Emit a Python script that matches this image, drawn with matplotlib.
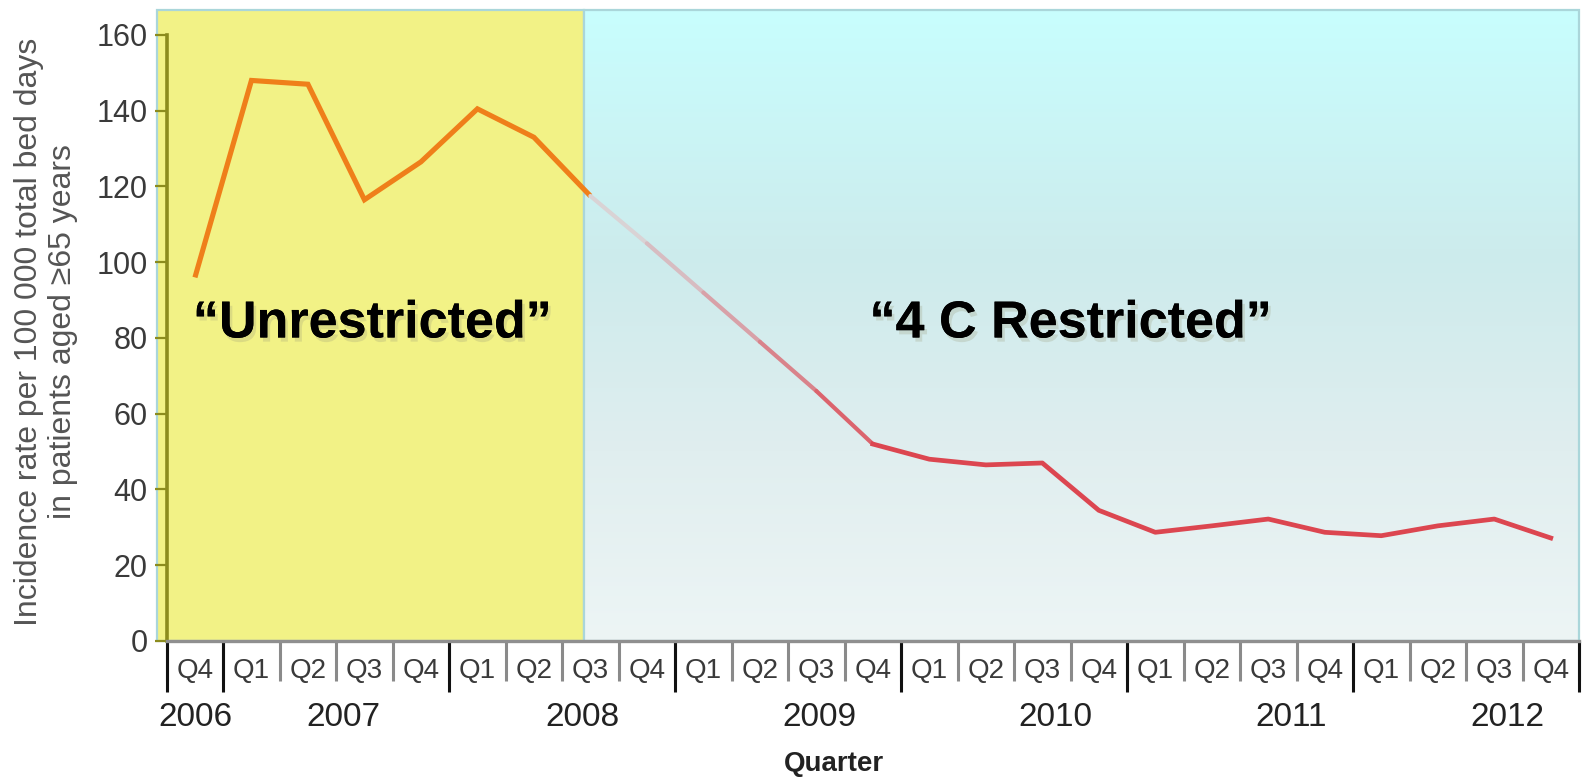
import numpy as np
import matplotlib
matplotlib.use("Agg")
import matplotlib.pyplot as plt
from matplotlib.patches import Rectangle
from matplotlib.collections import LineCollection
from matplotlib.colors import LinearSegmentedColormap
import matplotlib.patheffects as pe

plt.rcParams['font.family'] = ['Liberation Sans', 'DejaVu Sans']

# ---------------- data ----------------
quarters = ["Q4",
            "Q1", "Q2", "Q3", "Q4",
            "Q1", "Q2", "Q3", "Q4",
            "Q1", "Q2", "Q3", "Q4",
            "Q1", "Q2", "Q3", "Q4",
            "Q1", "Q2", "Q3", "Q4",
            "Q1", "Q2", "Q3", "Q4"]
years = ["2006", "2007", "2008", "2009", "2010", "2011", "2012"]
incidence = [96, 148, 147, 116.5, 126.5, 140.5, 133, 117.5,
             105, 92, 79, 66, 52,
             48, 46.5, 47, 34.5, 28.7, 30.4, 32.2, 28.7, 27.8, 30.4, 32.2, 27.2]
yticks = [0, 20, 40, 60, 80, 100, 120, 140, 160]
period_labels = ["\u201cUnrestricted\u201d", "\u201c4 C Restricted\u201d"]
n_unrestricted = 8  # Q4 2006 .. Q3 2008

# ---------------- figure ----------------
W, H = 1589, 777
fig = plt.figure(figsize=(W / 100, H / 100), dpi=100)
fig.patch.set_facecolor('white')
ax = fig.add_axes([166.7 / W, (H - 641) / H, (1579 - 166.7) / W, (641 - 10) / H])
ax.patch.set_visible(False)

x = np.arange(len(quarters))
y = np.array(incidence, dtype=float)
YMAX = 166.6

# backgrounds
left_bg = -0.672
split = n_unrestricted - 1 - 0.11
ax.add_patch(Rectangle((left_bg, 0), split - left_bg, YMAX, facecolor='#f2f286',
                       edgecolor='#aad6da', lw=1.6, clip_on=False, zorder=0))
cmap = LinearSegmentedColormap.from_list(
    'bg', [(0.0, '#edf5f5'), (0.3, '#e0eeef'), (0.6, '#cdebec'), (1.0, '#c8fefe')])
grad = np.linspace(0, 1, 256).reshape(-1, 1)
ax.imshow(grad, extent=(split, len(quarters) - 0.5, 0, YMAX), origin='lower',
          aspect='auto', cmap=cmap, zorder=0, interpolation='bilinear')
ax.add_patch(Rectangle((split, 0), len(quarters) - 0.5 - split, YMAX, facecolor='none',
                       edgecolor='#aad6da', lw=1.6, clip_on=False, zorder=0.5))
ax.set_xlim(-0.5, len(quarters) - 0.5)
ax.set_ylim(0, YMAX)

# line: unrestricted part (orange)
k = n_unrestricted
ax.plot(x[:k], y[:k], color='#ef7f1a', lw=3.7, solid_joinstyle='miter',
        solid_capstyle='butt', zorder=3)
# fading transition segments
fade_cols = ['#d9d3d5', '#d7bcc1', '#d8a1a8', '#d9838b', '#db646d']
nf = len(fade_cols)
segs = np.stack([np.column_stack([x[k - 1:k - 1 + nf], y[k - 1:k - 1 + nf]]),
                 np.column_stack([x[k:k + nf], y[k:k + nf]])], axis=1)
lc = LineCollection(segs, colors=fade_cols, linewidths=3.0, capstyle='round', zorder=3)
ax.add_collection(lc)
# restricted part (red)
ax.plot(x[k - 1 + nf:], y[k - 1 + nf:], color='#dc4650', lw=3.4,
        solid_joinstyle='round', zorder=3)

# spines
for s in ['top', 'right']:
    ax.spines[s].set_visible(False)
ax.spines['left'].set_color('#8c8c1e')
ax.spines['left'].set_linewidth(2.6)
ax.spines['left'].set_bounds(0, 160)
ax.spines['bottom'].set_color('#8f8f8f')
ax.spines['bottom'].set_linewidth(2.4)

# y ticks
ax.set_yticks(yticks)
ax.set_yticklabels([str(v) for v in yticks])
ax.tick_params(axis='y', direction='out', length=8.6, width=1.6, color='#8c8c1e',
               labelsize=22, labelcolor='#3a3a3a', pad=5)

# x ticks: year boundaries as major ticks, quarter labels as minor tick labels
year_bounds = [-0.5, 0.5, 4.5, 8.5, 12.5, 16.5, 20.5, len(quarters) - 0.5]
ax.set_xticks(year_bounds)
ax.set_xticklabels([''] * len(year_bounds))
ax.tick_params(axis='x', which='major', direction='out', length=37, width=2.2,
               color='#111111')
ax.set_xticks(x, minor=True)
ax.set_xticklabels(quarters, minor=True)
ax.tick_params(axis='x', which='minor', length=0, labelsize=20, labelcolor='#3a3a3a',
               pad=12)
# quarter boundaries
qb = np.arange(-0.5, len(quarters), 1.0)
ax.vlines(qb, 0, -40 / 631 * YMAX, color='#8a8a8a', lw=2.2, clip_on=False, zorder=1)

# year labels
year_pos = [0.0, 2.62, 6.86, 11.05, 15.23, 19.4, 23.24]
for yr, p in zip(years, year_pos):
    ax.text(p, -76 / 631, yr, transform=ax.get_xaxis_transform(), ha='center',
            va='center', fontsize=24, color='#222222')

fig.text(834 / W, 1 - 764 / H, 'Quarter', ha='center', va='center', fontsize=20,
         weight='bold', color='#222222')
fig.text(46 / W, 1 - 332 / H,
         "Incidence rate per 100 000 total bed days\nin patients aged \u226565 years",
         rotation=90, ha='center', va='center', multialignment='center',
         fontsize=23, color='#555555', linespacing=1.15)

# period annotations
shadow = [pe.withSimplePatchShadow(offset=(2, -3), shadow_rgbFace='#999977', alpha=0.25),
          pe.Normal()]
ax.text(3.14, 83.7, period_labels[0], ha='center', va='center', fontsize=37.5,
        weight='bold', color='black', path_effects=shadow, zorder=4)
ax.text(15.5, 83.7, period_labels[1], ha='center', va='center', fontsize=37.5,
        weight='bold', color='black', path_effects=shadow, zorder=4)

fig.savefig('out.png', dpi=100)
